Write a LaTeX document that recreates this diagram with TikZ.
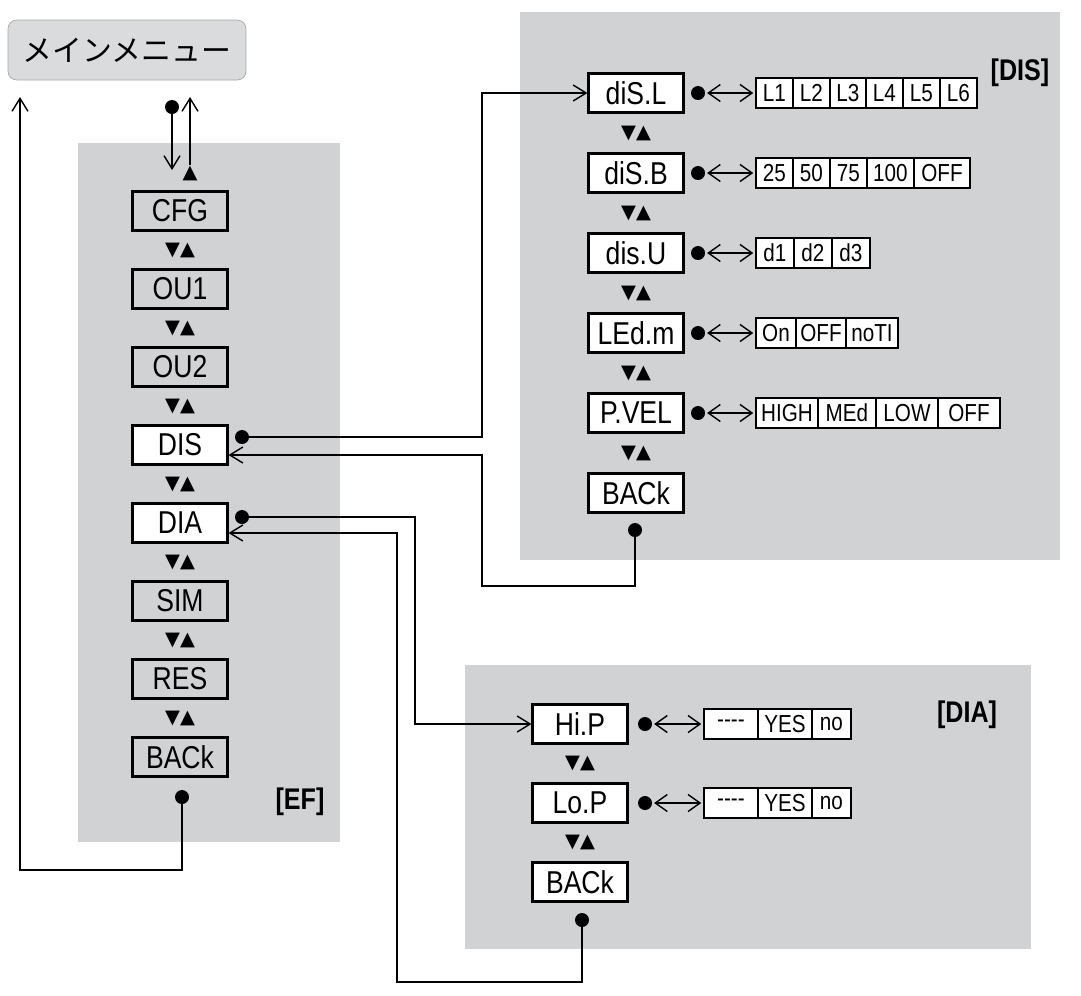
\documentclass[tikz,border=0pt]{standalone}
\usepackage{fontspec}
\setmainfont[FakeStretch=0.84]{Liberation Sans}
\newfontfamily\cjk{Noto Sans CJK JP}
\newfontfamily\symf{DejaVu Sans}
\usetikzlibrary{arrows.meta,positioning}
\definecolor{panelgray}{RGB}{209,210,212}
\definecolor{menugray}{RGB}{218,219,221}
\tikzset{
  panel/.style={fill=panelgray, draw=none},
  mbox/.style={draw=black, line width=1.2pt, minimum width=1.9cm, minimum height=0.78cm, inner sep=0pt, font=\fontsize{18}{18}\selectfont},
  gbox/.style={mbox, fill=panelgray},
  wbox/.style={mbox, fill=white},
  cell/.style={draw=black, line width=1.1pt, fill=white, minimum height=0.6cm, inner sep=0pt, anchor=west, font=\fontsize{14}{14}\selectfont},
  dot/.style={circle, fill=black, inner sep=0pt, minimum size=0.28cm},
  tri/.style={inner sep=0pt, font=\symf\fontsize{11}{11}\selectfont},
  link/.style={line width=0.8pt, -{Straight Barb[length=2.6mm,width=3.2mm]}},
  dbl/.style={line width=0.8pt, {Straight Barb[length=2.4mm,width=3.4mm]}-{Straight Barb[length=2.4mm,width=3.4mm]}, shorten <=1pt, shorten >=1pt},
  tag/.style={font=\bfseries\fontsize{17}{17}\selectfont}
}
% one row of option cells: text/left edge/width (px)
\newcommand{\optrow}[3]{%
  \foreach \t/\l/\w [count=\i] in {#3}
    \node[cell, minimum width=\w*0.02cm] (#1\i) at (\l,#2) {\t};}
\begin{document}
\begin{tikzpicture}[x=0.02cm, y=-0.02cm]
\useasboundingbox (0,0) rectangle (1081,995);

% panels
\fill[panel] (78,143) rectangle (340,842);
\fill[panel] (520,12) rectangle (1060,560);
\fill[panel] (465,665) rectangle (1031,949);
\node[tag] (efTag) at (300,802) {[EF]};
\node[tag] (disTag) at (1020,73) {[DIS]};
\node[tag] (diaTag) at (967,715) {[DIA]};

% main menu
\node[draw=gray!70, fill=menugray, rounded corners=5pt, minimum width=4.76cm, minimum height=1.2cm, font=\cjk\fontsize{17}{17}\selectfont] (menu) at (127,50) {メインメニュー};
\node[dot] (menuDot) at (172,107) {};
\coordinate (menuIn) at (172,170);
\node[tri] (menuUp) at (190,173) {▲};
\coordinate (menuOut) at (190,97);
\draw[link] (menuDot) -- (menuIn);
\draw[link] (menuUp) -- (menuOut);

% EF column
\foreach \n/\t/\y/\s in {cfg/CFG/211/gbox, ouA/OU1/289/gbox, ouB/OU2/367/gbox, dis/DIS/445/wbox,
                         dia/DIA/523/wbox, sim/SIM/601/gbox, res/RES/679/gbox, efBack/BACk/757/gbox}
  \node[\s] (\n) at (180,\y) {\t};
\foreach \y [count=\i] in {250,328,406,484,562,640,718}
  \node[tri] (efTri\i) at (180,\y) {▼▲};
\node[dot] (efDot) at (182,797) {};
\node[dot] (disDot) at (242,437) {};
\node[dot] (diaDot) at (242,517) {};

% DIS column
\foreach \n/\t/\y in {disL/diS.L/93, disB/diS.B/173, disU/dis.U/253, ledm/LEd.m/333, pvel/P.VEL/413, disBack/BACk/493}
  \node[wbox] (\n) at (636,\y) {\t};
\foreach \y [count=\i] in {133,213,293,373,453}
  \node[tri] (disTri\i) at (636,\y) {▼▲};
\node[dot] (disBackDot) at (635,530) {};
\foreach \n/\y in {disL/93, disB/173, disU/253, ledm/333, pvel/413}
  \node[dot] (\n Dot) at (698,\y) {};
\optrow{oL}{93}{L1/755/37, L2/792/37, L3/829/36, L4/865/37, L5/902/37, L6/939/37}
\optrow{oB}{173}{25/755/37, 50/792/37, 75/829/37, 100/866/47, OFF/913/56}
\optrow{oU}{253}{d1/755/38, d2/793/38, d3/831/38}
\optrow{oM}{333}{On/755/40, OFF/795/50, noTI/845/52}
\optrow{oV}{413}{HIGH/755/62, MEd/817/58, LOW/875/62, OFF/937/62}
\draw[dbl] (disLDot) -- (oL1);
\draw[dbl] (disBDot) -- (oB1);
\draw[dbl] (disUDot) -- (oU1);
\draw[dbl] (ledmDot) -- (oM1);
\draw[dbl] (pvelDot) -- (oV1);

% DIA column
\foreach \n/\t/\y in {hip/Hi.P/724, lop/Lo.P/803, diaBack/BACk/882}
  \node[wbox] (\n) at (580,\y) {\t};
\foreach \y [count=\i] in {763,842}
  \node[tri] (diaTri\i) at (580,\y) {▼▲};
\node[dot] (diaBackDot) at (582,920) {};
\node[dot] (hipDot) at (645,724) {};
\node[dot] (lopDot) at (645,803) {};
\optrow{oH}{724}{{-}{-}{-}{-}/703/54, YES/757/54, no/811/39}
\optrow{oP}{803}{{-}{-}{-}{-}/703/54, YES/757/54, no/811/39}
\draw[dbl] (hipDot) -- (oH1);
\draw[dbl] (lopDot) -- (oP1);

% connectors
\coordinate (backTop) at (20,97);
\draw[link] (efDot) -- ++(0,73) -| (backTop);
\draw[link] (disDot) -- (482,437) |- (disL.west);
\draw[link] (disBackDot) |- (482,586) |- ([yshift=-0.2cm]dis.east);
\draw[link] (diaDot) -- (415,517) |- (hip.west);
\draw[link] (diaBackDot) |- (397,982) |- ([yshift=-0.2cm]dia.east);
\end{tikzpicture}
\end{document}
